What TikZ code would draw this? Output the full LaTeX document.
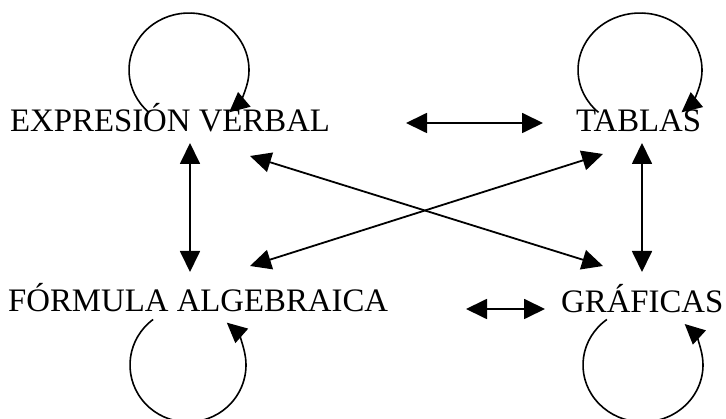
\documentclass[tikz,border=0pt]{standalone}
\usepackage{fontspec}
\setmainfont{Liberation Serif}
\usetikzlibrary{arrows.meta}
\begin{document}
\begin{tikzpicture}[x=1pt,y=1pt,
  lbl/.style={anchor=base west, inner sep=0pt, font=\fontsize{32.8}{38}\selectfont},
  conn/.style={line width=1.8pt, {Triangle[length=21pt,width=20pt]}-{Triangle[length=21pt,width=20pt]}},
  loopy/.style={line width=1.6pt, -{Triangle[length=20pt,width=19pt]}}]
\useasboundingbox (0,0) rectangle (726,418);
\clip (0,0) rectangle (726,418);
% labels
\node[lbl] (ev) at (10,286) {EXPRESIÓN VERBAL};
\node[lbl] (ta) at (576,286) {TABLAS};
\node[lbl] (fa) at (8,106) {FÓRMULA ALGEBRAICA};
\node[lbl] (gr) at (561,105) {GRÁFICAS};
% connector ends
\coordinate (evS) at (190,275);
\coordinate (faN) at (190,146);
\coordinate (taS) at (642,275);
\coordinate (grN) at (642,146);
\coordinate (evE) at (406,295);
\coordinate (taW) at (543,295);
\coordinate (faE) at (466,109);
\coordinate (grW) at (545,109);
\coordinate (evSE) at (250,262);
\coordinate (grNW) at (603,152);
\coordinate (faNE) at (250,152);
\coordinate (taSW) at (603,264);
% double arrows
\draw[conn] (evS) -- (faN);
\draw[conn] (taS) -- (grN);
\draw[conn] (evE) -- (taW);
\draw[conn] (faE) -- (grW);
\draw[conn] (evSE) -- (grNW);
\draw[conn] (faNE) -- (taSW);
% self loops (elliptic arcs)
\coordinate (evC) at (189,348);
\coordinate (taC) at (640,348);
\coordinate (faC) at (188,53);
\coordinate (grC) at (643,53);
\draw[loopy] ([shift={(228:60 and 57)}]evC) arc[start angle=228, end angle=-48, x radius=60, y radius=57];
\draw[loopy] ([shift={(228:62 and 57)}]taC) arc[start angle=228, end angle=-48, x radius=62, y radius=57];
\draw[loopy] ([shift={(127:58 and 57)}]faC) arc[start angle=127, end angle=408, x radius=58, y radius=57];
\draw[loopy] ([shift={(127:60 and 57)}]grC) arc[start angle=127, end angle=406, x radius=60, y radius=57];
\end{tikzpicture}
\end{document}
